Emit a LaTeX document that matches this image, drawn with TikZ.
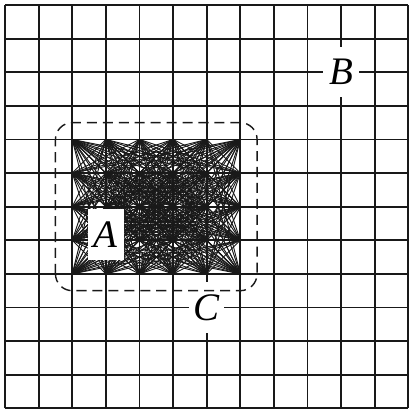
\documentclass[tikz,border=0pt]{standalone}
\usepackage{fontspec}
\setmainfont{Liberation Serif}
\usepackage{tikz}
\usetikzlibrary{positioning}
\tikzset{
  gridline/.style={black!90, line width=1.5pt},
  cliqueline/.style={black!90, line width=0.8pt},
  setlabel/.style={fill=white, inner sep=0pt, minimum width=1.05cm, minimum height=1.5cm,
    font=\fontsize{33}{33}\selectfont\itshape},
  regionbox/.style={black!90, line width=1.2pt, dash pattern=on 8.5pt off 5pt, rounded corners=0.5cm}
}

\begin{document}
\begin{tikzpicture}
  \useasboundingbox (-0.15,-0.05) rectangle (12,12.15);
  %% Background grid
  \draw[gridline] (0,0) grid (12,12);
  %% Clique vertices (6 x 5 grid points)
  \foreach \n in {0,...,29} {
    \pgfmathtruncatemacro{\cx}{2+mod(\n,6)}
    \pgfmathtruncatemacro{\cy}{4+div(\n,6)}
    \coordinate (v\n) at (\cx,\cy);
  }
  %% Clique edges: every pair of vertices
  \foreach \a in {0,...,28} {
    \pgfmathtruncatemacro{\s}{\a+1}
    \foreach \b in {\s,...,29}
      \draw[cliqueline] (v\a) -- (v\b);
  }
  %% Set labels
  \node[setlabel] (labA) at (3,5.17) {A};
  \node[setlabel] (labB) at (10,10) {B};
  \node[setlabel] (labC) at (6,3) {C};
  %% Region C
  \draw[regionbox] (1.5,3.5) rectangle (7.5,8.5);
\end{tikzpicture}
\end{document}
